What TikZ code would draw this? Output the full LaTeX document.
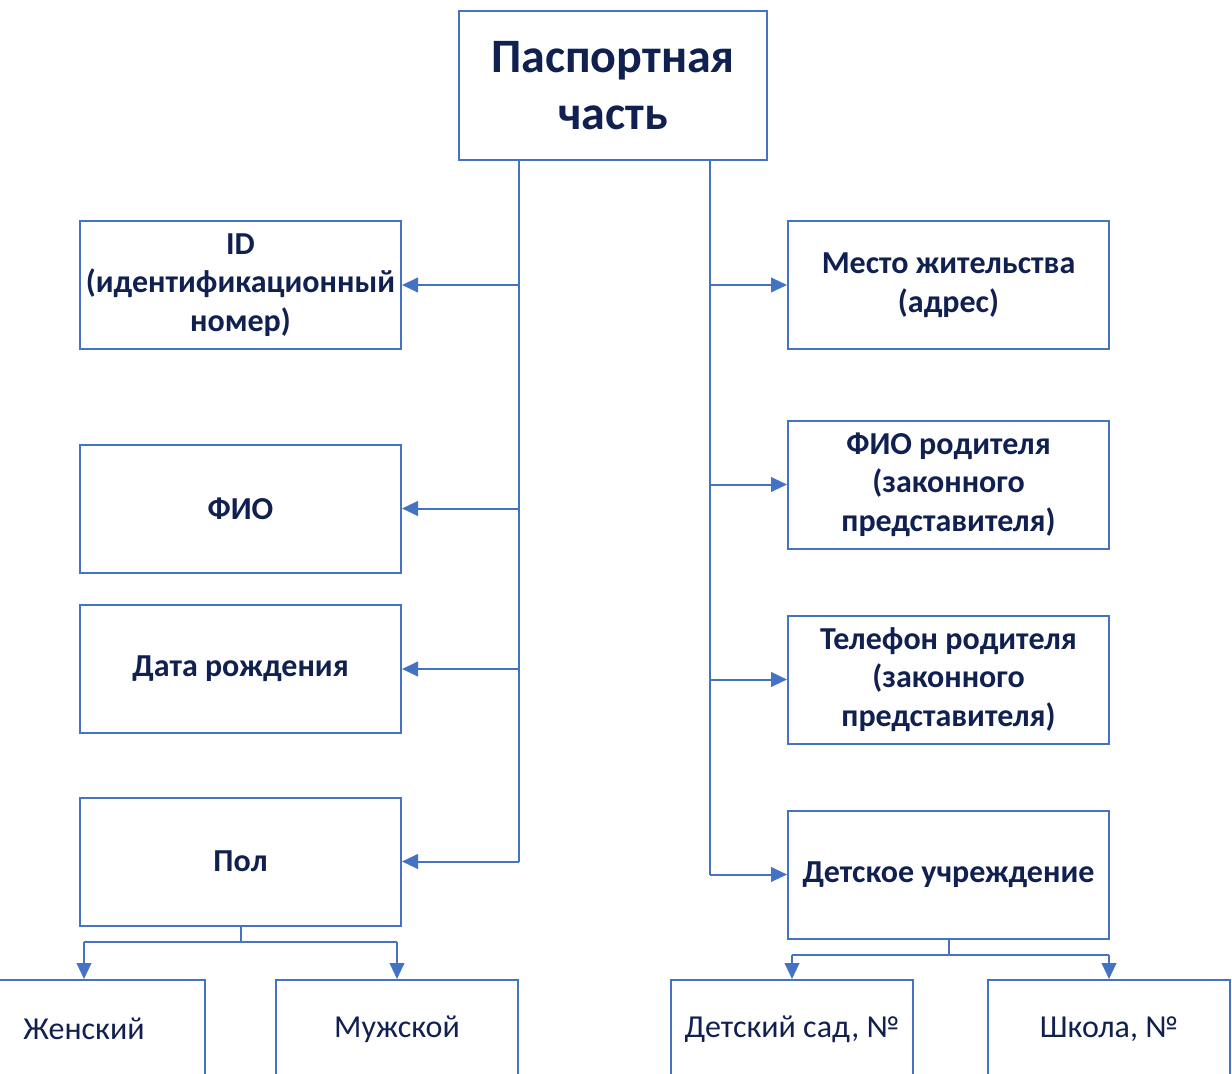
\documentclass[tikz,border=0pt]{standalone}
\usepackage{fontspec}
\setmainfont{Carlito}
\usetikzlibrary{arrows.meta}
\definecolor{lineblue}{RGB}{68,114,196}
\definecolor{textnavy}{RGB}{16,32,80}

\begin{document}
\begin{tikzpicture}[x=0.75pt,y=-0.75pt,draw=lineblue,line width=1.5pt,>={Triangle[length=12pt,width=11pt]}]
    \tikzstyle{box}=[rectangle,draw=lineblue,fill=white,text=textnavy,align=center,inner sep=0pt,minimum width=240.75pt,minimum height=96pt,font=\bfseries\fontsize{24}{29}\selectfont]
    \tikzstyle{title}=[box,minimum width=231pt,minimum height=111.75pt,font=\bfseries\fontsize{36}{43}\selectfont]
    \tikzstyle{leaf}=[box,minimum width=181.5pt,minimum height=73.5pt,font=\fontsize{24}{29}\selectfont]

\useasboundingbox (0,0) rectangle (1232,1074);
\clip (0,0) rectangle (1232,1074);

\node[title] (pass) at (613,85.5) {Паспортная\\часть};

% left column
\node[box] (id) at (240.5,285) {ID\\(идентификационный\\номер)};
\node[box] (fio) at (240.5,508.5) {ФИО};
\node[box] (birth) at (240.5,669) {Дата рождения};
\node[box] (sex) at (240.5,861.5) {Пол};

% right column
\node[box] (home) at (948.5,285) {Место жительства\\(адрес)};
\node[box] (parent) at (948.5,484.5) {ФИО родителя\\(законного\\представителя)};
\node[box] (phone) at (948.5,679.5) {Телефон родителя\\(законного\\представителя)};
\node[box] (inst) at (948.5,874.5) {Детское учреждение};

% bottom row
\node[leaf] (fem) at (84,1029) {Женский};
\node[leaf] (male) at (397,1029) {Мужской};
\node[leaf] (kg) at (792,1029) {Детский сад, №};
\node[leaf] (school) at (1109,1029) {Школа, №};

\coordinate (trunkL) at (519,0);
\coordinate (trunkR) at (710,0);
\coordinate (forkL) at (0,942);
\coordinate (forkR) at (0,955);

\draw (pass.south -| trunkL) -- (sex.east -| trunkL);
\draw (pass.south -| trunkR) -- (inst.west -| trunkR);
\foreach \n in {id,fio,birth,sex}
    \draw[->] (\n.east -| trunkL) -- (\n.east);
\foreach \n in {home,parent,phone,inst}
    \draw[->] (\n.west -| trunkR) -- (\n.west);

\draw (sex.south) -- (sex.south |- forkL);
\draw (fem.north |- forkL) -- (male.north |- forkL);
\foreach \n in {fem,male}
    \draw[->] (\n.north |- forkL) -- (\n.north);

\draw (inst.south) -- (inst.south |- forkR);
\draw (kg.north |- forkR) -- (school.north |- forkR);
\foreach \n in {kg,school}
    \draw[->] (\n.north |- forkR) -- (\n.north);
\end{tikzpicture}
\end{document}
